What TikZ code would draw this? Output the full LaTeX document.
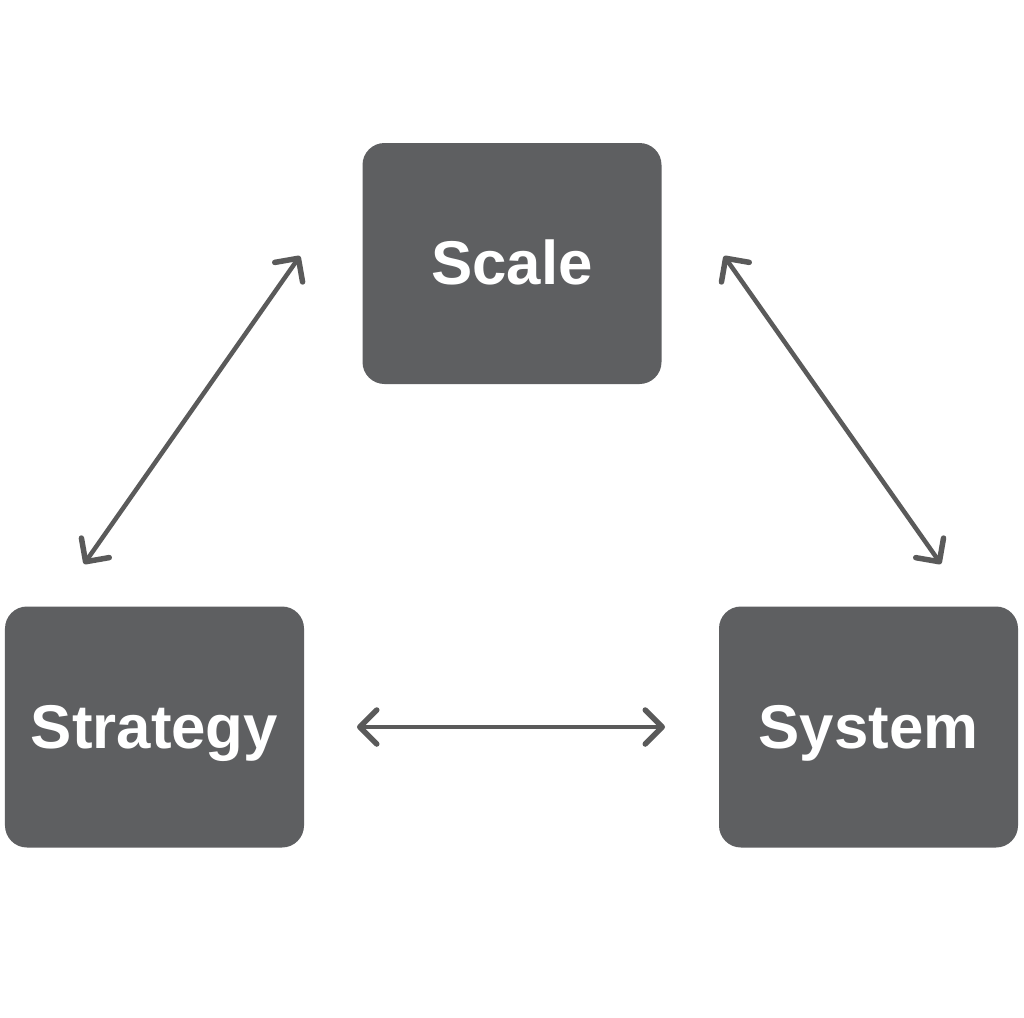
\documentclass[tikz,border=0pt]{standalone}
\usepackage{fontspec}
\setmainfont{Liberation Sans}
\usetikzlibrary{arrows.meta}
\definecolor{boxgray}{HTML}{5E5F61}
\definecolor{arrgray}{HTML}{5A5A5A}
\tikzset{
  box/.style={draw=none, fill=boxgray, rounded corners=22bp, minimum width=299bp, minimum height=241bp, inner sep=0pt, text=white, text height=42bp, text depth=0pt, font=\fontsize{62}{72}\selectfont\bfseries},
  tip/.style={Straight Barb[length=17bp, width=34bp, line width=5.5bp, round]},
  link/.style={draw=arrgray, line width=4.5bp, line cap=round, {Straight Barb[length=17bp, width=34bp, line width=5.5bp, round]}-{Straight Barb[length=17bp, width=34bp, line width=5.5bp, round]}}
}
\begin{document}
\begin{tikzpicture}[x=1bp, y=-1bp]
\useasboundingbox (0,0) rectangle (1024,1018);
\fill[white] (0,0) rectangle (1024,1018);
\node[box] (scale) at (512,263.5) {Scale};
\node[box] (strategy) at (154.5,727) {Strategy};
\node[box] (system) at (868.5,727) {System};
\coordinate (l1) at (84,564);
\coordinate (l2) at (300,256);
\coordinate (r1) at (724,256);
\coordinate (r2) at (941,564);
\coordinate (h1) at (357,727);
\coordinate (h2) at (665,727);
\draw[link] (l1) -- (l2);
\draw[link] (r1) -- (r2);
\draw[link] (h1) -- (h2);
\end{tikzpicture}
\end{document}
